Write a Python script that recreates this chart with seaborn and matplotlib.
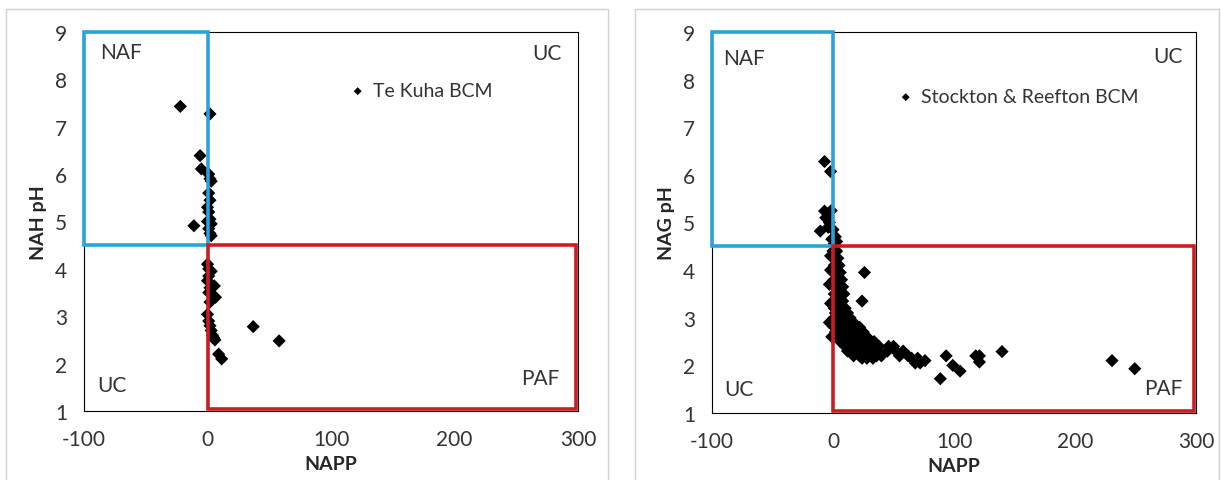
import seaborn as sns
import pandas as pd
import matplotlib.pyplot as plt
from matplotlib.patches import Rectangle

# Te Kuha BCM (left panel)
napp_tk = [-22, 2, -6, -5, 1, 2, 3, 1, 2, 0, 1, 2, 3, 1, 0, 2, -11, 3,
           0, 1, 3, 1, 0, 2, 5.5, 6.5, 0, 1, 2, 3, 4, 5, 6, 9, 11.5, 37, 58, 2, 1]
ph_tk = [7.43, 7.27, 6.39, 6.11, 6.0, 5.9, 5.85, 5.6, 5.45, 5.3, 5.2, 5.05, 4.95, 4.85, 5.0, 4.75, 4.91, 4.7,
         4.1, 4.0, 3.95, 3.85, 3.75, 3.6, 3.64, 3.4, 3.04, 2.9, 2.8, 2.7, 2.6, 2.55, 2.5, 2.2, 2.1, 2.78, 2.48, 3.3, 3.5]

# Stockton & Reefton BCM (right panel)
napp_sr = [-7, -2, -7, -1.5, -6, -3, -10.5, -4, 0, 2, -1, 1, 3,
           0, 1.5, 3, 1, 2.5, 4, 1, 3, 5, 2, 4, 6, 26,
           1, 3, 5, 7, 2, 4, 6, 8, 1, 3, 5, 7, 9, 2, 4, 6, 8, 24,
           1, 3, 5, 7, 10, 2, 4, 6, 9, 12, 1, 3, 5, 8, 11, 14,
           2, 4, 7, 10, 13, 17, 1, 3, 6, 9, 12, 15, 19, 22,
           2, 5, 8, 11, 14, 17, 21, 25, 4, 7, 10, 13, 16, 20, 24, 28,
           6, 9, 12, 15, 18, 22, 26, 30, 34,
           10, 14, 18, 22, 26, 30, 34, 38, 46, 50,
           12, 16, 21, 25, 29, 33, 37, 45, 52, 58,
           17, 22, 27, 31, 36, 40, 55, 62, 24, 28, 33, 65, 70, 68, 72,
           76, 93.5, 88.7, 99, 105, 118, 121, 121, 139.7, 230.6, 249.4,
           -2, -2, -3, -2, -3, -1]
ph_sr = [6.28, 6.07, 5.24, 5.25, 5.1, 5.0, 4.82, 4.9, 4.85, 4.7, 4.65, 4.55, 4.6,
         4.4, 4.4, 4.4, 4.25, 4.25, 4.25, 4.1, 4.1, 4.1, 3.95, 3.95, 3.95, 3.95,
         3.8, 3.8, 3.8, 3.8, 3.65, 3.65, 3.65, 3.65, 3.5, 3.5, 3.5, 3.5, 3.5, 3.35, 3.35, 3.35, 3.35, 3.35,
         3.2, 3.2, 3.2, 3.2, 3.2, 3.1, 3.1, 3.1, 3.1, 3.1, 3.0, 3.0, 3.0, 3.0, 3.0, 3.0,
         2.9, 2.9, 2.9, 2.9, 2.9, 2.9, 2.8, 2.8, 2.8, 2.8, 2.8, 2.8, 2.8, 2.8,
         2.7, 2.7, 2.7, 2.7, 2.7, 2.7, 2.7, 2.7, 2.6, 2.6, 2.6, 2.6, 2.6, 2.6, 2.6, 2.6,
         2.5, 2.5, 2.5, 2.5, 2.5, 2.5, 2.5, 2.5, 2.5,
         2.4, 2.4, 2.4, 2.4, 2.4, 2.4, 2.4, 2.4, 2.4, 2.4,
         2.3, 2.3, 2.3, 2.3, 2.3, 2.3, 2.3, 2.3, 2.3, 2.3,
         2.2, 2.2, 2.2, 2.2, 2.2, 2.2, 2.2, 2.2, 2.15, 2.15, 2.15, 2.15, 2.15, 2.05, 2.05,
         2.1, 2.2, 1.72, 2.0, 1.88, 2.2, 2.07, 2.2, 2.29, 2.1, 1.93,
         4.3, 4.0, 3.7, 3.3, 2.9, 2.6]

# classification thresholds
naf_box = (-100, 4.5, 100, 4.5)   # x0, y0, width, height
paf_box = (0, 1.05, 298, 3.45)

sns.set_style("white")
plt.rcParams['font.family'] = ['Lato', 'DejaVu Sans']
plt.rcParams['axes.unicode_minus'] = False

fig = plt.figure(figsize=(12.21, 4.81), dpi=100)

# light grey chart-area borders
fig.patches.append(Rectangle((6/1221, -0.05), 602/1221, 1 - 10/481 + 0.05, transform=fig.transFigure,
                             fill=False, edgecolor='#d0d0d0', lw=1))
fig.patches.append(Rectangle((635/1221, -0.05), 584/1221, 1 - 10/481 + 0.05, transform=fig.transFigure,
                             fill=False, edgecolor='#d0d0d0', lw=1))

ax1 = fig.add_axes([84/1221, 1 - 412/481, 494/1221, 379/481])
ax2 = fig.add_axes([712/1221, 1 - 414/481, 484/1221, 381/481])

panels = [
    (ax1, napp_tk, ph_tk, "Te Kuha BCM", "NAH pH", (0.495, 0.845),
     [(-87, 8.58, "NAF", "left"), (287, 8.55, "UC", "right"), (-89, 1.55, "UC", "left"), (285, 1.7, "PAF", "right")]),
    (ax2, napp_sr, ph_sr, "Stockton & Reefton BCM", "NAG pH", (0.34, 0.83),
     [(-91, 8.45, "NAF", "left"), (289, 8.5, "UC", "right"), (-90, 1.5, "UC", "left"), (289, 1.52, "PAF", "right")]),
]

for ax, xs, ys, name, ylab, leg_pos, region_labels in panels:
    df = pd.DataFrame({"NAPP": xs, "pH": ys})
    sns.scatterplot(data=df, x="NAPP", y="pH", marker="D", color="black", s=45,
                    edgecolor="none", label=name, ax=ax, zorder=3)
    ax.set_xlim(-100, 300)
    ax.set_ylim(1, 9)
    ax.set_xticks([-100, 0, 100, 200, 300])
    ax.set_yticks(range(1, 10))
    ax.tick_params(length=0, labelsize=15, colors='#333333')
    ax.tick_params(axis='x', pad=13)
    ax.tick_params(axis='y', pad=12)
    for sp in ax.spines.values():
        sp.set_color('black')
        sp.set_linewidth(0.8)
    ax.set_xlabel("NAPP", fontsize=14, fontweight='bold', labelpad=4)
    ax.set_ylabel(ylab, fontsize=14, fontweight='bold', labelpad=6)

    ax.add_patch(Rectangle(naf_box[:2], naf_box[2], naf_box[3], fill=False,
                           edgecolor='#2aa3d8', lw=2.6, clip_on=False, zorder=4))
    ax.add_patch(Rectangle(paf_box[:2], paf_box[2], paf_box[3], fill=False,
                           edgecolor='#cc1c22', lw=2.6, clip_on=False, zorder=4))

    for x, y, txt, ha in region_labels:
        ax.text(x, y, txt, ha=ha, va='center', fontsize=15, color='#333333')

    ax.legend(loc='center left', bbox_to_anchor=leg_pos, frameon=False, fontsize=14,
              handletextpad=-0.2, borderpad=0, markerscale=0.6, labelcolor='#333333')

fig.savefig("out.png", dpi=100)
